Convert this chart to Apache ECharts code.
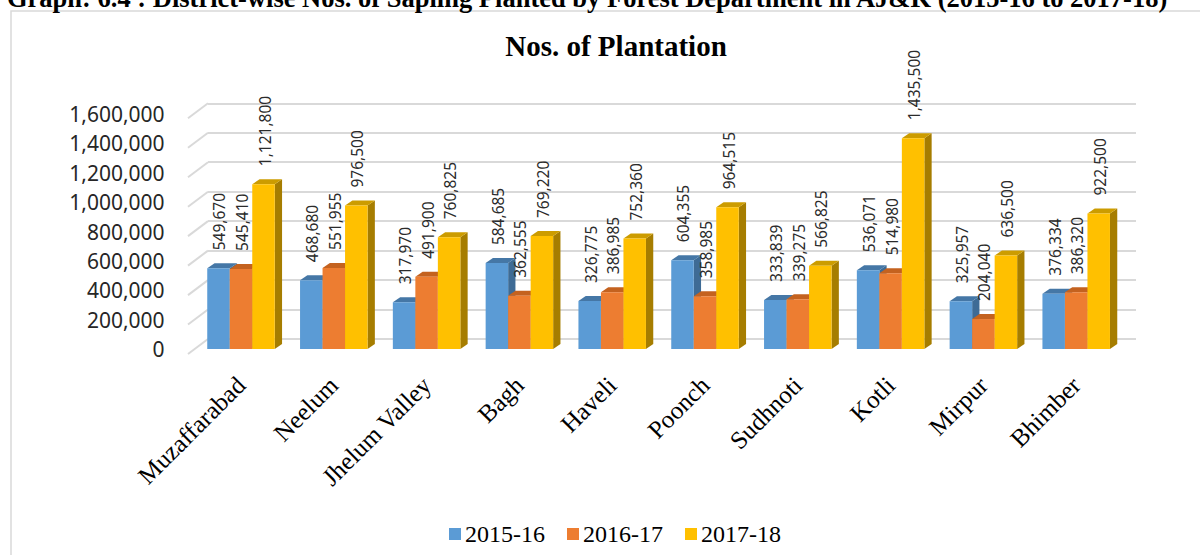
<!DOCTYPE html>
<html>
<head>
<meta charset="utf-8">
<script src="https://cdn.jsdelivr.net/npm/echarts@6/dist/echarts.min.js"></script>
<style>
html,body{margin:0;padding:0;background:#fff;}
#chart{width:1200px;height:555px;}
</style>
</head>
<body>
<div id="chart"></div>
<script>
var CATEGORIES = ['Muzaffarabad','Neelum','Jhelum Valley','Bagh','Haveli','Poonch','Sudhnoti','Kotli','Mirpur','Bhimber'];
var SERIES_NAMES = ['2015-16','2016-17','2017-18'];
var S_2015_16 = [549670, 468680, 317970, 584685, 326775, 604355, 333839, 536071, 325957, 376334];
var S_2016_17 = [545410, 551955, 491900, 362555, 386985, 358985, 339275, 514980, 204040, 386320];
var S_2017_18 = [1121800, 976500, 760825, 769220, 752360, 964515, 566825, 1435500, 636500, 922500];
var Y_TICKS = [0, 200000, 400000, 600000, 800000, 1000000, 1200000, 1400000, 1600000];
var CHART_TITLE = 'Nos. of Plantation';
var PAGE_HEADING = 'Graph: 6.4 : District-wise Nos. of Sapling Planted by Forest Department in AJ&K (2015-16 to 2017-18)';

var SERIES_VALUES = [S_2015_16, S_2016_17, S_2017_18];
var FRONT = ['#5B9BD5', '#ED7D31', '#FFC000'];
var TOPC  = ['#4577A6', '#C4621F', '#CC9C00'];
var SIDE  = ['#3E6B95', '#AB561B', '#A67D00'];

function fmt(v){ return Number(v).toLocaleString('en-US'); }

function bar3D(si){
  return function(params, api){
    var idx = api.value(0), val = api.value(1);
    var top = api.coord([idx, val]);
    var base = api.coord([idx, 0]);
    var band = api.size([1, 0])[0];
    var bw = band * 0.2425;
    var x0 = top[0] - 1.5 * bw + si * bw;
    var x1 = x0 + bw;
    var dx = 7.3, dy = 5;
    var yT = top[1], yB = base[1];
    return {
      type: 'group',
      children: [
        {type:'polygon', shape:{points:[[x1,yT],[x1+dx,yT-dy],[x1+dx,yB-dy],[x1,yB]]}, style:{fill:SIDE[si]}},
        {type:'polygon', shape:{points:[[x0,yT],[x0+dx,yT-dy],[x1+dx,yT-dy],[x1,yT]]}, style:{fill:TOPC[si]}},
        {type:'rect', shape:{x:x0, y:yT, width:bw, height:yB-yT}, style:{fill:FRONT[si]}},
        {type:'text', x:(x0+x1)/2 + 1, y:yT - 18, rotation:Math.PI/2,
          style:{text:fmt(val), x:0, y:0, align:'left', verticalAlign:'middle',
            font:'15.5px "Noto Sans"', fill:'#2b2b2b'}}
      ]
    };
  };
}

var series = [];
// left-wall diagonal lines at each gridline
series.push({
  type:'custom', name:'wall', xAxisIndex:1, yAxisIndex:1, silent:true, z:1,
  data: Y_TICKS.map(function(v){ return [0, v]; }),
  renderItem: function(params, api){
    var p = api.coord([0, api.value(1)]);
    return {type:'line', shape:{x1:p[0]-20, y1:p[1]+15, x2:p[0], y2:p[1]},
      style:{stroke:'#D9D9D9', lineWidth:2}};
  }
});
SERIES_NAMES.forEach(function(name, si){
  series.push({
    type:'custom', name:name, xAxisIndex:0, yAxisIndex:0, z:2+si,
    itemStyle:{color:FRONT[si]},
    data: SERIES_VALUES[si].map(function(v, i){ return [i, v]; }),
    renderItem: bar3D(si)
  });
});

var chart = echarts.init(document.getElementById('chart'), null, {renderer:'svg'});
chart.setOption({
  animation:false,
  backgroundColor:'#ffffff',
  title:{
    text: CHART_TITLE, left: 611, top: 26, textAlign:'center',
    textStyle:{fontFamily:'Liberation Serif', fontWeight:'bold', fontSize:29, color:'#000'}
  },
  graphic:[
    {type:'rect', shape:{x:11, y:11, width:1200, height:600}, style:{fill:'none', stroke:'#D9D9D9', lineWidth:1.5}, silent:true, z:-1},
    {type:'text', x:7, y:11, style:{text:PAGE_HEADING, font:'bold 26.5px "Liberation Serif"', fill:'#000', align:'left', verticalAlign:'bottom'}, silent:true}
  ],
  legend:{
    data: SERIES_NAMES, left: 444, top: 517, icon:'rect', itemWidth:12, itemHeight:12, itemGap:22,
    textStyle:{fontFamily:'Liberation Serif', fontSize:24, color:'#000', padding:[0,0,0,-1]}
  },
  grid:[
    {left:194.6, width:928, top:114, height:235},
    {left:208, width:928, top:103.3, height:235.7}
  ],
  xAxis:[
    {type:'category', gridIndex:0, data:CATEGORIES, boundaryGap:true,
      axisLine:{show:false}, axisTick:{show:false},
      axisLabel:{rotate:45, interval:0, margin:32, fontFamily:'Liberation Serif', fontSize:25, color:'#000'}},
    {type:'value', gridIndex:1, min:0, max:10, show:false}
  ],
  yAxis:[
    {type:'value', gridIndex:0, min:0, max:1600000, interval:200000,
      axisLine:{show:false}, axisTick:{show:false}, splitLine:{show:false},
      axisLabel:{margin:30, fontFamily:'Noto Sans', fontSize:21, color:'#262626', formatter:function(v){return fmt(v);}}},
    {type:'value', gridIndex:1, min:0, max:1600000, interval:200000,
      axisLine:{show:false}, axisTick:{show:false}, axisLabel:{show:false},
      splitLine:{show:true, lineStyle:{color:'#D9D9D9', width:2}}}
  ],
  series: series
});
</script>
</body>
</html>
